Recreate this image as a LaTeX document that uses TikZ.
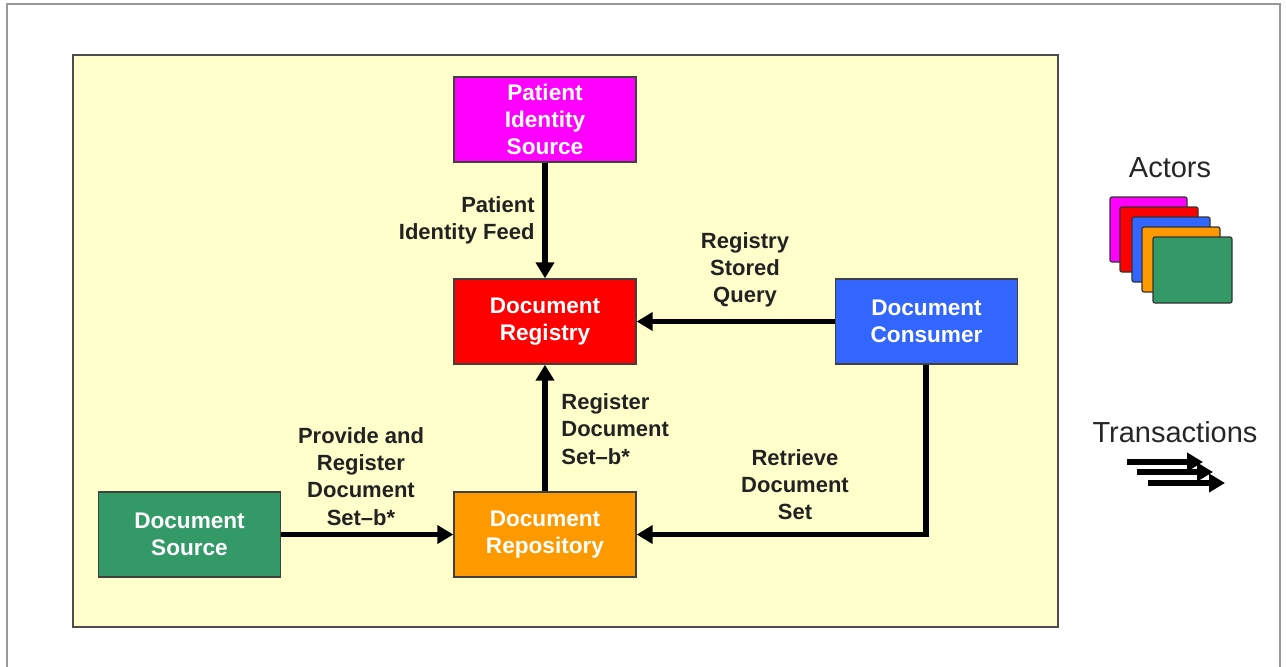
\documentclass[tikz,border=0pt]{standalone}
\usepackage{fontspec}
\setmainfont{Liberation Sans}
\usetikzlibrary{arrows.meta,positioning}
\definecolor{panelyellow}{HTML}{FFFFCC}
\definecolor{pismagenta}{HTML}{FF00FF}
\definecolor{regred}{HTML}{FF0000}
\definecolor{conblue}{HTML}{3366FF}
\definecolor{srcgreen}{HTML}{339966}
\definecolor{repoorange}{HTML}{FF9900}
\definecolor{labelgray}{HTML}{222222}

\tikzset{
  actor/.style={draw=black!75,line width=0.7pt,text=white,align=center,
    font=\bfseries\fontsize{11.3}{13.6}\selectfont,
    minimum width=91pt,minimum height=42.5pt,inner sep=0pt},
  trans/.style={line width=2.6pt,-{Triangle[length=8pt,width=9pt]}},
  translabel/.style={text=labelgray,font=\bfseries\fontsize{11}{13.6}\selectfont,inner sep=0pt},
  icon/.style={draw=black!80,line width=0.6pt,rounded corners=1pt}
}

\begin{document}
\begin{tikzpicture}[x=0.5pt,y=-0.5pt,line join=miter]
\useasboundingbox (0,0) rectangle (1286,666);
\clip (0,0) rectangle (1286,666);
\draw[black!40,line width=0.8pt] (7,4) rectangle (1280,680);
\draw[black!70,fill=panelyellow,line width=0.8pt] (73,55) rectangle (1058,627);

% actors
\node[actor,fill=pismagenta] (pis) at (545,119.5) {Patient\\Identity\\Source};
\node[actor,fill=regred] (registry) at (545,321.5) {Document\\Registry};
\node[actor,fill=conblue] (consumer) at (926.5,321.5) {Document\\Consumer};
\node[actor,fill=srcgreen] (source) at (189.5,534.5) {Document\\Source};
\node[actor,fill=repoorange] (repository) at (545,534.5) {Document\\Repository};

% transactions
\draw[trans] (pis) -- (registry);
\draw[trans] (consumer) -- (registry);
\draw[trans] (repository) -- (registry);
\draw[trans] (source) -- (repository);
\draw[trans] (consumer.south -| 926,0) |- (repository.east);

\node[translabel,align=right,anchor=east] (pifeed) at (535,220) {Patient\\Identity Feed};
\node[translabel,align=center] (rsq) at (745,270) {Registry\\Stored\\Query};
\node[translabel,align=left,anchor=west] (rdsb) at (561,429) {Register\\Document\\Set--b*};
\node[translabel,align=center] (pnr) at (361,476.5) {Provide and\\Register\\Document\\Set--b*};
\node[translabel,align=center] (rds) at (795,484.5) {Retrieve\\Document\\Set};

% legend
\node[text=black!85,font=\fontsize{14.5}{17}\selectfont] (actorstitle) at (1170,168) {Actors};
\draw[icon,fill=pismagenta] (1110,197) rectangle (1187,262);
\draw[icon,fill=regred] (1120,207) rectangle (1198,272);
\draw[icon,fill=conblue] (1132,217) rectangle (1210,282);
\draw[icon,fill=repoorange] (1142,227) rectangle (1220,292);
\draw[icon,fill=srcgreen] (1153,237) rectangle (1232,303);

\node[text=black!85,font=\fontsize{14.5}{17}\selectfont] (transtitle) at (1175,432) {Transactions};
\coordinate (ta1) at (1127,462);
\coordinate (tb1) at (1203,462);
\coordinate (ta2) at (1137,472);
\coordinate (tb2) at (1213,472);
\coordinate (ta3) at (1148,483);
\coordinate (tb3) at (1225,483);
\foreach \i in {1,2,3}
  \draw[line width=3pt,-{Triangle[length=8pt,width=9pt]}] (ta\i) -- (tb\i);
\end{tikzpicture}
\end{document}
